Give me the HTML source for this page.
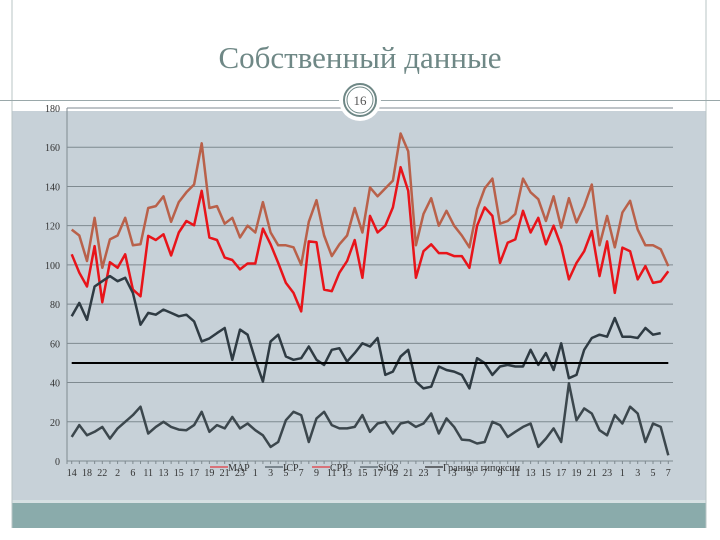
<!DOCTYPE html>
<html><head><meta charset="utf-8"><style>
html,body{margin:0;padding:0;background:#fff;width:720px;height:540px;overflow:hidden}
svg{display:block}
</style></head><body>
<svg id="chart" width="720" height="540" xmlns="http://www.w3.org/2000/svg" font-family="Liberation Serif, serif">
  <rect x="12" y="111" width="694" height="392" fill="#c7d1d8"/>
  <rect x="12" y="500" width="694" height="3" fill="#d6e0e2"/>
  <rect x="12" y="503" width="694" height="25" fill="#8aabab"/>
  <line x1="12" y1="0" x2="12" y2="528" stroke="#b8c4c6" stroke-width="1"/>
  <line x1="706" y1="0" x2="706" y2="528" stroke="#b8c4c6" stroke-width="1"/>
  <line x1="0" y1="100.5" x2="720" y2="100.5" stroke="#9aa8aa" stroke-width="1"/>
  <text x="360" y="68" text-anchor="middle" font-size="31" fill="#6f8886">Собственный данные</text>
  <g id="grid"></g>
  <g id="series"></g>
  <g id="axes"></g>
  <circle cx="360" cy="100" r="21" fill="#fff"/>
  <circle cx="360" cy="100" r="16" fill="none" stroke="#6f8886" stroke-width="2"/>
  <circle cx="360" cy="100" r="13" fill="none" stroke="#6f8886" stroke-width="1"/>
  <text x="360" y="105" text-anchor="middle" font-size="13" fill="#555">16</text>
  <g id="legend"></g>
</svg>
<script>
const yTicks=[0,20,40,60,80,100,120,140,160,180];
const xLabels=["14","18","22","2","6","11","13","15","17","19","21","23","1","3","5","7","9","11","13","15","17","19","21","23","1","3","5","7","9","11","13","15","17","19","21","23","1","3","5","7"];
const mapVals=[118,115,102,124,98.5,113,115,124,110,110.5,129,130,135,122,132,137,141,162,129,130,121,124,114,120,116.5,132,116.5,110,110,109,100,122,133,115,104.5,110.5,115,129,116.5,
139.5,135,139,143,167,158,110,126,134,120,127.6,120,115,109,128.4,139,144,121,122.4,126,144,137,133.5,122.4,135,119,134,121.6,130,141,110,125,109,126.7,132.7,118,110,110,108,99.4];
const cppVals=[105.4,96,89,109.6,81,101.4,98.5,105.4,87.4,84,114.8,112.7,115.6,104.8,116.5,122.4,120.2,137.8,113.9,112.7,103.7,102.5,97.7,100.7,100.7,118.5,110.5,101,90.8,85.7,76.3,112,111.5,87.4,86.6,96,102,112.7,93.4,
125,116.5,120,129.3,149.8,137.8,93.4,107,110.5,106,106,104.5,104.5,98.5,120,129.3,125,101,111.3,113,127.6,116.5,124,110.5,120,109.6,92.6,101,107,117.3,94.3,112,85.7,108.8,107,92.6,99.4,90.8,91.6,96.8];
const icpVals=[73.8,80.6,72,89,91.7,94.3,91.7,93.4,85.7,69.5,75.5,74.6,77.2,75.5,73.8,74.6,71.2,61,62.5,65.2,67.8,51.6,67,64.4,51.6,40.5,61,64.4,53.3,51.6,52.4,58.4,51.6,49,56.7,57.5,50.7,55,60,
58.4,62.7,43.9,45.6,53.3,56.7,40.5,37,37.9,48.2,46.4,45.6,43.9,37,52.4,49.9,43.9,48.2,49,48.2,48.2,56.7,49,55,46.4,60,42.2,43.9,56.7,62.7,64.4,63.4,72.9,63.4,63.4,62.7,67.8,64.4,65.2,null];
const sio2Vals=[12.3,18.3,13.1,14.9,17.4,11.4,16.6,20,23.4,27.7,14,17.4,20,17.4,16,15.7,18.3,25.1,14.9,18.3,16.6,22.5,16.6,19.1,15.7,13.1,7.2,9.7,20.8,25.1,23.4,9.7,21.7,25.1,18.3,16.6,16.6,17.4,23.4,
14.9,19.1,20,14,19.1,20,17.4,19.1,24.2,14,21.7,17.4,10.9,10.6,8.9,9.7,20,18.3,12.3,14.9,17.4,19.1,7.2,11.4,16.6,9.7,39.6,20.8,26.8,24.2,15.7,13.1,23.4,19.1,27.7,24.2,9.7,19.1,17.4,2.9];
const thresholdVal=50;
const seriesNames=["MAP","ICP","CPP","SiO2","Граница гипоксии"];

const NS="http://www.w3.org/2000/svg";
const X0=71.7,X1=668.3,Y0=461,YK=1.961;
const n=mapVals.length;
function xs(i){return X0+(X1-X0)*i/(n-1);}
function ys(v){return Y0-v*YK;}
function mk(tag,attrs,parent){const e=document.createElementNS(NS,tag);for(const k in attrs)e.setAttribute(k,attrs[k]);parent.appendChild(e);return e;}

const grid=document.getElementById('grid');
yTicks.forEach(t=>{
  if(t>0){const l=mk('line',{x1:67,x2:673,y1:ys(t),y2:ys(t),stroke:'#7f8a90','stroke-width':1},grid);
  
  }
  const tx=mk('text',{x:60,y:ys(t)+4,'text-anchor':'end','font-size':10,fill:'#333'},grid);
  tx.textContent=String(t);
  
  
});

const axes=document.getElementById('axes');
const ya=mk('line',{x1:67,x2:67,y1:ys(180),y2:Y0+3,stroke:'#7f8a90','stroke-width':1},axes);


const xa=mk('line',{x1:67,x2:673,y1:Y0,y2:Y0,stroke:'#7f8a90','stroke-width':1},axes);


for(let i=0;i<n;i++){
  const tk=mk('line',{x1:xs(i),x2:xs(i),y1:Y0,y2:Y0+3,stroke:'#7f8a90','stroke-width':1},axes);
  
  
}
xLabels.forEach((lb,j)=>{
  const t=mk('text',{x:xs(j*2),y:476,'text-anchor':'middle','font-size':10,fill:'#333'},axes);
  t.textContent=lb;
  
  
});

const sg=document.getElementById('series');
function line(vals,color,w,name){
  let d='',pen=false;
  vals.forEach((v,i)=>{if(v==null){pen=false;return;}d+=(pen?'L':'M')+xs(i).toFixed(1)+','+ys(v).toFixed(1);pen=true;});
  const p=mk('path',{d:d,fill:'none',stroke:color,'stroke-width':w,'stroke-linejoin':'round'},sg);
  
  
}
line(mapVals,'#b9614a',2.5,'map-line');
line(cppVals,'#e8141a',2.5,'cpp-line');
line(icpVals,'#2f3b43',2.5,'icp-line');
line(sio2Vals,'#3c474d',2.5,'sio2-line');
const th=mk('line',{x1:xs(0),x2:xs(n-1),y1:ys(thresholdVal),y2:ys(thresholdVal),stroke:'#000','stroke-width':2},sg);



const lg=document.getElementById('legend');
const lgX=[210,265,312,360,425];
const lgC=['#e8141a','#2f3b43','#e8141a','#2f3b43','#000'];
seriesNames.forEach((nm,i)=>{
  const s=mk('line',{x1:lgX[i],x2:lgX[i]+18,y1:467,y2:467,stroke:lgC[i],'stroke-width':1},lg);
  
  
  const t=mk('text',{x:lgX[i]+18,y:471,'font-size':10,fill:'#333'},lg);
  t.textContent=nm;
  
  
});
</script>
</body></html>
